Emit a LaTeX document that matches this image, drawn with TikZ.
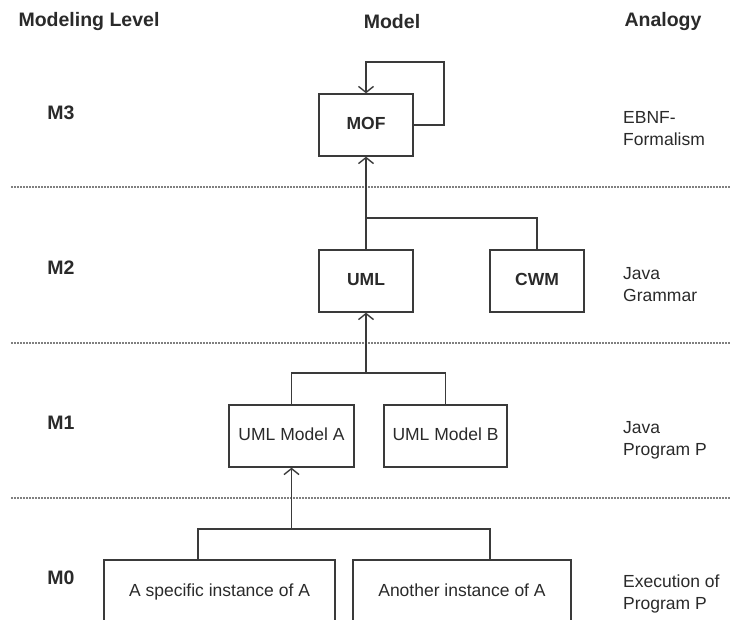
\documentclass[tikz,border=0pt]{standalone}
\usepackage{fontspec}
\setmainfont{Liberation Sans}
\usepackage{xcolor}
\usetikzlibrary{arrows.meta, positioning, calc}

\definecolor{linegray}{HTML}{3A3A3A}
\definecolor{textgray}{HTML}{2A2A2A}

\tikzset{
  levelbox/.style={draw=linegray, line width=1.4pt, minimum width=94pt, minimum height=62pt, inner sep=0pt, text height=12.6pt, text depth=3.6pt, text=textgray, font=\fontsize{17.5}{21}\selectfont},
  boldbox/.style={levelbox, font=\fontsize{17.5}{21}\selectfont\bfseries},
  heading/.style={font=\fontsize{19.5}{23}\selectfont\bfseries, text=textgray, inner sep=0pt},
  analogy/.style={font=\fontsize{17.5}{22}\selectfont, text=textgray, align=left, anchor=west, inner sep=0pt},
  separator/.style={gray, line width=1.2pt, dash pattern=on 2pt off 1pt},
  link/.style={draw=linegray, line width=1.4pt},
  uses/.style={link, -{Straight Barb[length=6pt, width=15pt]}}
}

\begin{document}
\begin{tikzpicture}[x=1pt, y=-1pt]
            \useasboundingbox (0,0) rectangle (731,620);

            % Titres des colonnes
            \node[heading] (hlevel) at (89,22) {Modeling Level};
            \node[heading] (hmodel) at (392,22) {Model};
            \node[heading] (hanalogy) at (663,22) {Analogy};

            % Separations des niveaux
            \draw[separator] (11,187) -- (731,187);
            \draw[separator] (11,343) -- (731,343);
            \draw[separator] (11,498) -- (731,498);

            % Niveaux
            \node[heading] (m3) at (61,113) {M3};
            \node[heading] (m2) at (61,268) {M2};
            \node[heading] (m1) at (61,423) {M1};
            \node[heading] (m0) at (61,578) {M0};

            % Analogies
            \node[analogy] (a3) at (623,129) {EBNF-\\Formalism};
            \node[analogy] (a2) at (623,285) {Java\\Grammar};
            \node[analogy] (a1) at (623,440) {Java\\Program P};
            \node[analogy] (a0) at (623,594) {Execution of\\Program P};

            % Modeles
            \node[boldbox] (mof) at (366,125) {MOF};
            \node[boldbox] (uml) at (366,281) {UML};
            \node[boldbox] (cwm) at (537,281) {CWM};
            \node[levelbox, minimum width=125pt] (umla) at (291.5,436) {UML Model A};
            \node[levelbox, minimum width=123pt] (umlb) at (445.5,436) {UML Model B};
            \node[levelbox, minimum width=231pt, minimum height=64pt] (insta) at (219.5,592) {A specific instance of A};
            \node[levelbox, minimum width=218pt, minimum height=64pt] (instb) at (462,592) {Another instance of A};

            % Boucle sur MOF
            \coordinate (loop) at (444,62);
            \draw[uses] (mof.east) -| (loop) -| (mof.north);

            % Liens M2 -> M3
            \coordinate (j2) at (366,218);
            \draw[uses] (uml.north) -- (mof.south);
            \draw[link] (j2) -| (cwm.north);

            % Liens M1 -> M2
            \coordinate (j1) at (366,373);
            \draw[uses] (j1) -- (uml.south);
            \draw[link] (umla.north) |- (j1) -| (umlb.north);

            % Liens M0 -> M1
            \coordinate (j0) at (291.5,529);
            \draw[uses] (j0) -- (umla.south);
            \draw[link] ([xshift=-21.5pt]insta.north) |- (j0) -| ([xshift=28pt]instb.north);
        \end{tikzpicture}
\end{document}
